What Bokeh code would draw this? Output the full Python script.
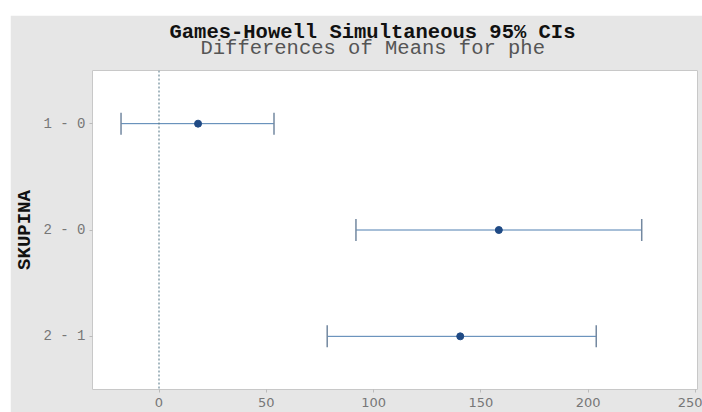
from bokeh.plotting import figure
from bokeh.models import (ColumnDataSource, FactorRange, Range1d, FixedTicker,
                          Whisker, TeeHead, Span, Title)
from bokeh.embed import file_html
from bokeh.resources import INLINE

# Pairwise comparisons of group means (Games-Howell, 95% simultaneous CIs)
comparisons = ["1 - 0", "2 - 0", "2 - 1"]
mean_diff = [18.2, 158.4, 140.4]
ci_lower = [-17.7, 91.8, 78.4]
ci_upper = [53.6, 225.0, 203.8]
x_ticks = [0, 50, 100, 150, 200, 250]

src = ColumnDataSource(dict(comp=comparisons, diff=mean_diff,
                            lo=ci_lower, hi=ci_upper))

PANEL = "#e6e6e6"

p = figure(width=692, height=397,
           y_range=FactorRange(factors=comparisons[::-1]),
           x_range=Range1d(-31, 251),
           output_backend="svg", toolbar_location=None,
           background_fill_color="white", border_fill_color=PANEL,
           min_border_left=82, min_border_right=5, min_border_bottom=23,
           min_border_top=55)
p.margin = (15, 0, 0, 10)

p.outline_line_color = "#c8c8c8"
p.xgrid.visible = False
p.ygrid.visible = False

# main heading on top, subtitle tucked tightly beneath it
p.title.text = "Games-Howell Simultaneous 95% CIs"
p.title.text_font = "Liberation Mono"
p.title.text_font_size = "20.5px"
p.title.text_font_style = "bold"
p.title.text_color = "#111111"
p.title.align = "left"
p.title.offset = 77
p.title.standoff = -40
sub = Title(text="Differences of Means for phe", align="left", offset=108,
            text_font="Liberation Mono", text_font_size="20.5px",
            text_font_style="normal", text_color="#555555", standoff=22)
p.add_layout(sub, "above")

# reference line at zero difference
p.add_layout(Span(location=0, dimension="height", line_color="#4f7383",
                  line_width=1, line_dash="2 2"))

# confidence intervals
p.add_layout(Whisker(source=src, base="comp", lower="lo", upper="hi",
                     dimension="width", line_color="#4f7fb0", line_width=1,
                     lower_head=TeeHead(size=22, line_color="#7388a0", line_width=1.5),
                     upper_head=TeeHead(size=22, line_color="#7388a0", line_width=1.5)))
p.scatter(x="diff", y="comp", source=src, size=7, color="#1f4a85")

# x axis
p.xaxis.ticker = FixedTicker(ticks=x_ticks)
p.xaxis.axis_line_color = None
p.xaxis.major_tick_line_color = "#bbbbbb"
p.xaxis.major_tick_in = 0
p.xaxis.major_tick_out = 3
p.xaxis.minor_tick_line_color = None
p.xaxis.major_label_text_font = "DejaVu Sans"
p.xaxis.major_label_text_font_size = "13px"
p.xaxis.major_label_text_color = "#777777"
p.xaxis.major_label_standoff = 5

# y axis
p.yaxis.axis_label = "SKUPINA"
p.yaxis.axis_label_text_font = "Liberation Mono"
p.yaxis.axis_label_text_font_style = "bold"
p.yaxis.axis_label_text_font_size = "19px"
p.yaxis.axis_label_text_color = "#111111"
p.yaxis.axis_label_standoff = 4
p.yaxis.axis_line_color = None
p.yaxis.major_tick_line_color = "#bbbbbb"
p.yaxis.major_tick_in = 0
p.yaxis.major_tick_out = 3
p.yaxis.major_label_text_font = "Liberation Mono"
p.yaxis.major_label_text_font_size = "14px"
p.yaxis.major_label_text_color = "#777777"
p.yaxis.major_label_standoff = 4

open("out.html", "w").write(file_html(p, INLINE))
